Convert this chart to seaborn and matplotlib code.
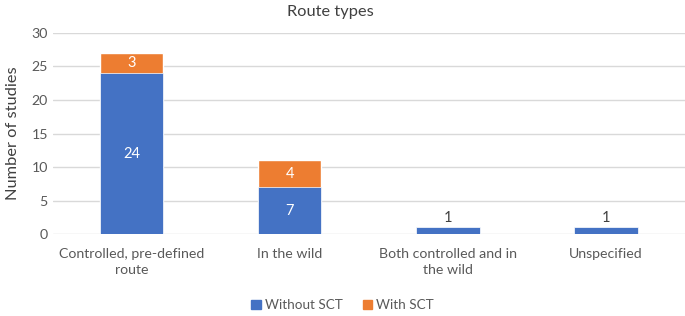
import matplotlib
matplotlib.use("Agg")
import matplotlib.pyplot as plt
import seaborn as sns
from matplotlib.patches import Patch

categories = ["Controlled, pre-defined\nroute", "In the wild",
              "Both controlled and in\nthe wild", "Unspecified"]
without_sct = [24, 7, 1, 1]
with_sct = [3, 4, 0, 0]
totals = [a + b for a, b in zip(without_sct, with_sct)]

blue = "#4472C4"
orange = "#ED7D31"
grey = "#595959"

sns.set_style("white")
plt.rcParams["font.family"] = ["Lato", "DejaVu Sans"]

fig = plt.figure(figsize=(6.85, 3.16), dpi=100)
ax = fig.add_axes([0.077, 0.259, 0.923, 0.637])

# orange = total height, blue drawn over it -> stacked look
sns.barplot(x=categories, y=totals, color=orange, width=0.4, saturation=1, ax=ax)
sns.barplot(x=categories, y=without_sct, color=blue, width=0.4, saturation=1,
            edgecolor="white", linewidth=0.5, ax=ax)

ax.set_ylim(0, 30)
ax.set_yticks(range(0, 31, 5))
ax.yaxis.grid(True, color="#D9D9D9", linewidth=1)
ax.set_axisbelow(True)
for s in ax.spines.values():
    s.set_visible(False)
ax.tick_params(axis="both", length=0, colors=grey, labelsize=10.2)
ax.tick_params(axis="x", pad=10)
for lbl in ax.get_xticklabels():
    lbl.set_linespacing(1.35)
ax.set_ylabel("Number of studies", fontsize=11.8, color="#404040", labelpad=8)

# value labels
for i, (w, s) in enumerate(zip(without_sct, with_sct)):
    if s > 0:
        ax.text(i, w / 2, str(w), ha="center", va="center", color="white", fontsize=10.5)
        ax.text(i, w + s / 2, str(s), ha="center", va="center", color="white", fontsize=10.5)
    else:
        ax.text(i, w + 0.3, str(w), ha="center", va="bottom", color="#404040", fontsize=10.5)

fig.text(0.482, 0.962, "Route types", ha="center", va="center", fontsize=11.8, color="#404040")

handles = [Patch(color=blue, label="Without SCT"), Patch(color=orange, label="With SCT")]
fig.legend(handles=handles, loc="center", bbox_to_anchor=(0.5, 0.035), ncol=2,
           frameon=False, fontsize=9.7, handlelength=0.7, handleheight=0.7,
           handletextpad=0.3, columnspacing=1.5, labelcolor=grey)

fig.savefig("out.png", dpi=100)
